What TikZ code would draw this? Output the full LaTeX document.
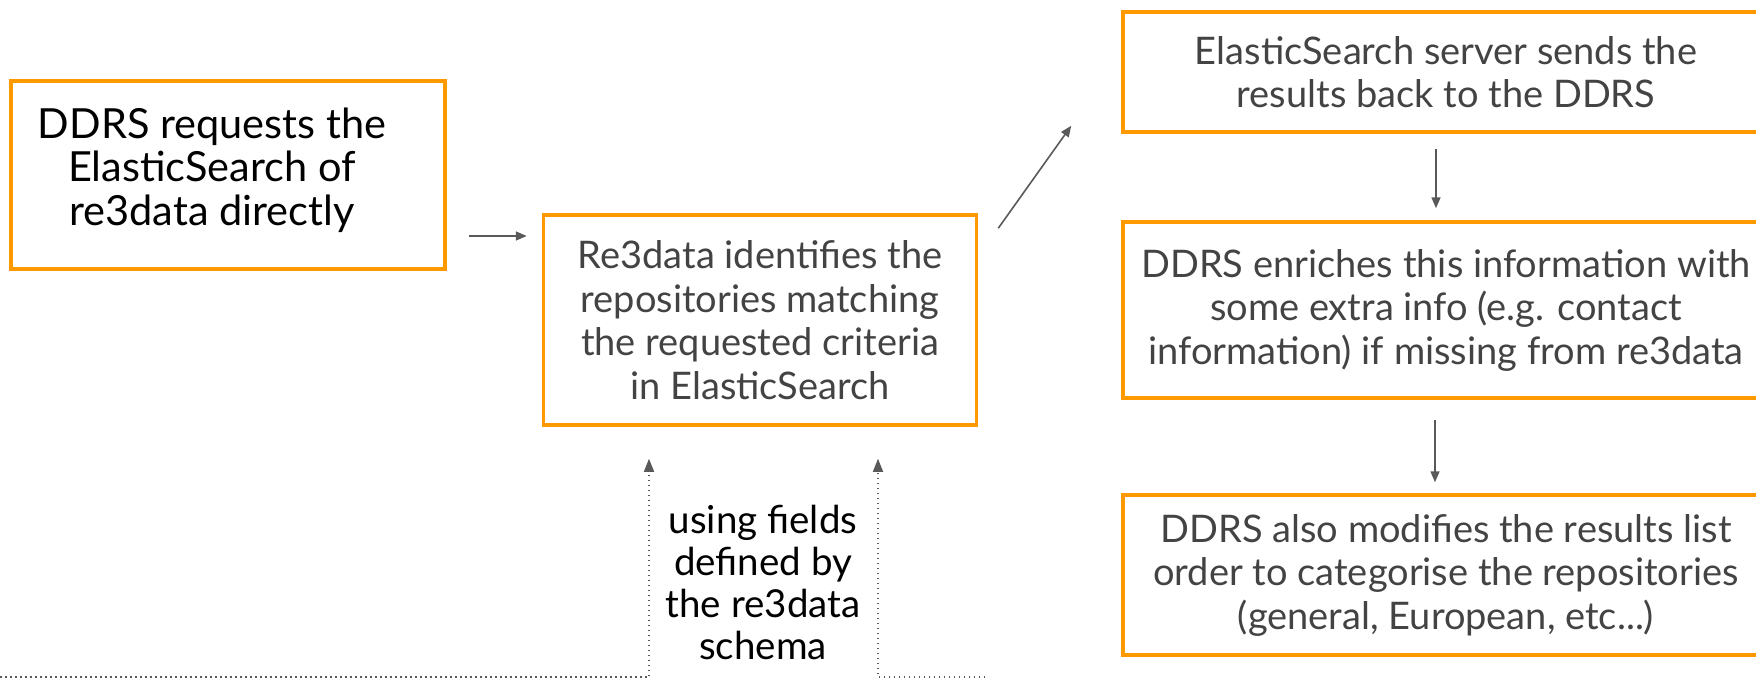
\documentclass[tikz,border=0pt]{standalone}
\usepackage{fontspec}
\setmainfont{Lato}
\usetikzlibrary{arrows.meta}
\definecolor{boxorange}{HTML}{FF9900}
\definecolor{txtgray}{HTML}{434343}
\definecolor{arrgray}{HTML}{595959}

\begin{document}
\begin{tikzpicture}[x=1pt, y=-1pt,
    stepbox/.style={draw=boxorange, line width=3.5pt, align=center, inner sep=0pt,
        font=\fontsize{38}{43.5}\selectfont, text=txtgray},
    arr/.style={draw=arrgray, line width=1.6pt, -{Triangle[length=11pt,width=9pt]}},
    dotarr/.style={draw=arrgray, line width=1.5pt, dash pattern=on 1.5pt off 3.5pt,
        -{Triangle[length=13pt,width=10pt]}}]

    \useasboundingbox (0,0) rectangle (1756,683);

    % Left column
    \node[stepbox, minimum width=434pt, minimum height=188pt] (req) at (228,175) {};
    \node[align=center, font=\fontsize{41.5}{43.5}\selectfont] (reqtext) at (212,170)
        {DDRS requests the\\ElasticSearch of\\re3data directly};
    \node[stepbox, minimum width=433pt, minimum height=210pt] (ident) at (760,320)
        {Re3data identifies the\\repositories matching\\the requested criteria\\in ElasticSearch};

    % Right column
    \node[stepbox, minimum width=646pt, minimum height=120pt] (send) at (1446,72)
        {ElasticSearch server sends the\\results back to the DDRS};
    \node[stepbox, minimum width=646pt, minimum height=176pt] (enrich) at (1446,310)
        {DDRS enriches this information with\\some extra info (e.g. contact\\information) if missing from re3data};
    \node[stepbox, minimum width=646pt, minimum height=160pt] (order) at (1446,575)
        {DDRS also modifies the results list\\order to categorise the repositories\\(general, European, etc...)};

    % Schema label
    \node[align=center, font=\fontsize{38.5}{42}\selectfont] (schema) at (763,582)
        {using fields\\defined by\\the re3data\\schema};

    % Arrows
    \draw[arr] ([xshift=22pt,yshift=-61pt]req.east) -- ([xshift=-15pt,yshift=84pt]ident.west);
    \draw[arr] ([xshift=20pt,yshift=-15pt]ident.north east) -- ([xshift=-50pt,yshift=8pt]send.south west);
    \draw[arr] ([xshift=-10pt,yshift=-15pt]send.south) -- ([xshift=-10pt,yshift=12pt]enrich.north);
    \draw[arr] ([xshift=-11pt,yshift=-20pt]enrich.south) -- ([xshift=-11pt,yshift=11pt]order.north);

    % Dotted schema links
    \coordinate (leftend) at (0,677);
    \coordinate (rightend) at (985,677);
    \draw[dotarr] (leftend) -| ([xshift=-111pt,yshift=-32pt]ident.south);
    \draw[dotarr] (rightend) -| ([xshift=118pt,yshift=-32pt]ident.south);

\end{tikzpicture}
\end{document}
